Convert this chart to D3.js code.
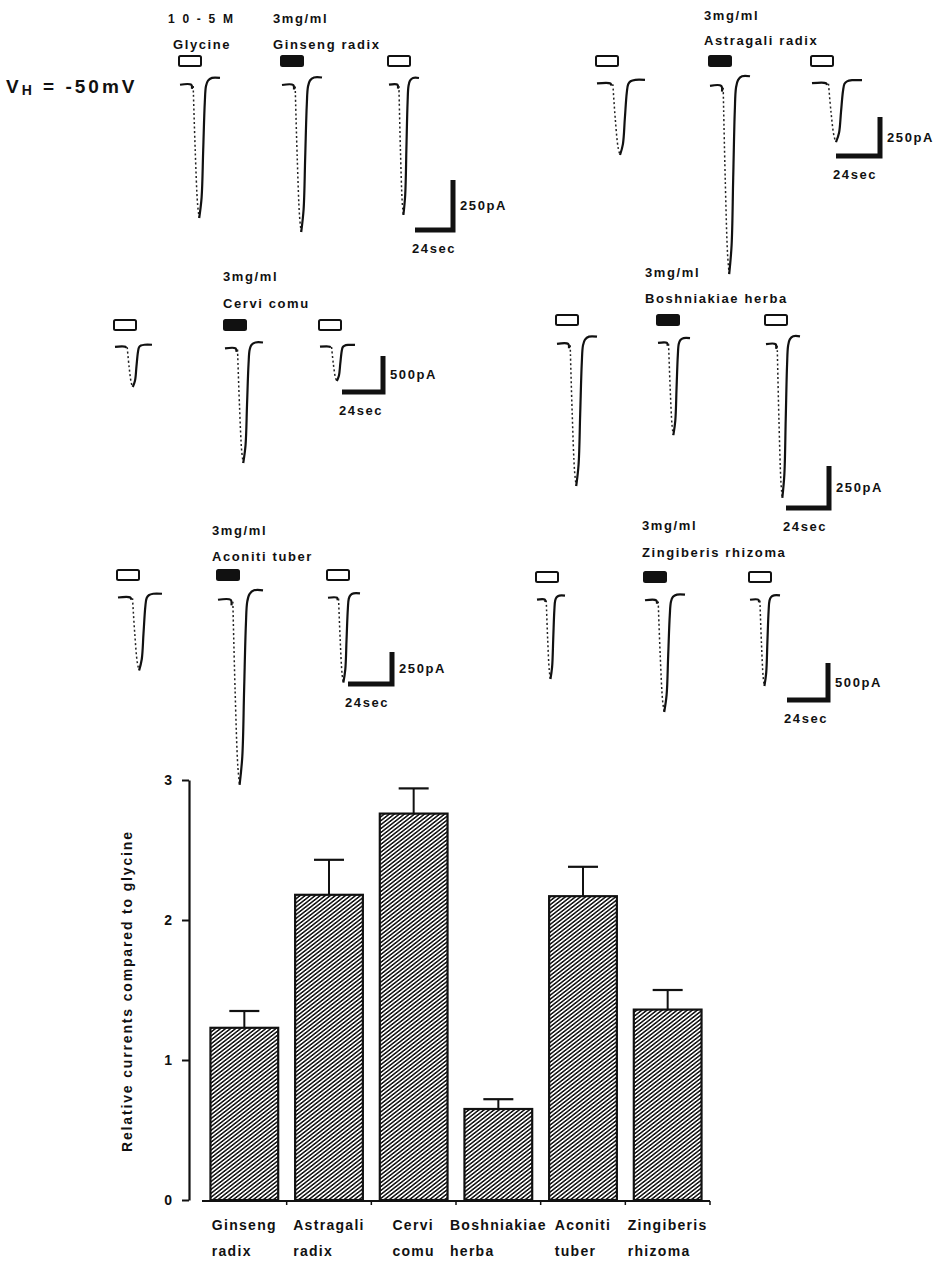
<!DOCTYPE html>
<html>
<head>
<meta charset="UTF-8">
<title>Relative glycine currents</title>
<script src="https://d3js.org/d3.v7.min.js"></script>
<style>
  body { margin: 0; background: #fff; }
  svg { display: block; font-family: "Liberation Sans", Arial, sans-serif; }
</style>
</head>
<body>
<svg id="chart" width="943" height="1262"></svg>
<script>
// ---------- data ----------
var drugs = ["Ginseng radix", "Astragali radix", "Cervi comu", "Boshniakiae herba", "Aconiti tuber", "Zingiberis rhizoma"];
var dose = "3mg/ml";
var scaleAmps = [250, 250, 500, 250, 250, 500];   // pA, vertical scale bar
var scaleTimeLabel = "24sec";
// peak current of each trace (pA): glycine, drug + glycine, glycine again
var peakCurrents = [
  [680, 750, 665],
  [468, 1231, 385],
  [569, 1625, 486],
  [863, 560, 934],
  [581, 1476, 677],
  [1095, 1541, 1189]
];
var barLabels = [["Ginseng", "radix"], ["Astragali", "radix"], ["Cervi", "comu"],
                 ["Boshniakiae", "herba"], ["Aconiti", "tuber"], ["Zingiberis", "rhizoma"]];
var relCurrents = [1.23, 2.18, 2.76, 0.65, 2.17, 1.36];
var relErrors = [0.12, 0.25, 0.18, 0.07, 0.21, 0.14];
var yTicks = [0, 1, 2, 3];

// shape of one recorded current (fraction of duration, fraction of peak)
var traceLead = [[0, 0.02], [0.28, 0.02], [0.30, 0.05]];
var traceDrop = [[0.33, 0.03], [0.38, 0.5], [0.44, 0.9], [0.48, 1.0]];
var traceRise = [[0.48, 1.0], [0.54, 0.85], [0.58, 0.5], [0.62, 0.15], [0.65, 0.03], [0.70, -0.01], [0.80, -0.03], [1.0, -0.03]];

// ---------- layout of the trace panels ----------
var panelLayout = [
  { x: [180, 282, 389], w: [40, 40, 30], base: 82,  labelX: 273, doseY: 23,  nameY: 49,  barX: 453, barY: 230, barH: 50, barW: 38 },
  { x: [597, 710, 812], w: [48, 40, 50], base: 82,  labelX: 704, doseY: 20,  nameY: 45,  barX: 880, barY: 156, barH: 39, barW: 44 },
  { x: [115, 225, 320], w: [37, 38, 35], base: 346, labelX: 223, doseY: 281, nameY: 308, barX: 383, barY: 392, barH: 36, barW: 41 },
  { x: [557, 658, 766], w: [40, 32, 34], base: 341, labelX: 645, doseY: 277, nameY: 303, barX: 829, barY: 508, barH: 42, barW: 43 },
  { x: [118, 218, 328], w: [44, 45, 32], base: 596, labelX: 212, doseY: 535, nameY: 561, barX: 392, barY: 684, barH: 32, barW: 44 },
  { x: [537, 645, 750], w: [28, 40, 30], base: 598, labelX: 642, doseY: 530, nameY: 557, barX: 828, barY: 700, barH: 37, barW: 41 }
];

var svg = d3.select("#chart");

var labelStyle = function(sel, size) {
  return sel.attr("font-size", size).attr("font-weight", "bold").attr("letter-spacing", "1.6px").attr("fill", "#111");
};

// holding potential
var vh = svg.append("text").attr("x", 6).attr("y", 93).attr("font-weight", "bold")
  .attr("font-size", 19).attr("letter-spacing", "3px").attr("fill", "#111");
vh.append("tspan").text("V");
vh.append("tspan").attr("font-size", 14).attr("dy", 2).text("H");
vh.append("tspan").attr("dy", -2).text(" = -50mV");

// glycine label over first panel
labelStyle(svg.append("text").attr("x", 168).attr("y", 23), 12).attr("letter-spacing", "2.2px").text("1 0 - 5 M");
labelStyle(svg.append("text").attr("x", 173).attr("y", 49), 13).text("Glycine");

panelLayout.forEach(function(p, i)
{
  var g = svg.append("g").attr("class", "panel");
  var amp = d3.scaleLinear().domain([0, scaleAmps[i]]).range([0, p.barH]);

  labelStyle(g.append("text").attr("x", p.labelX).attr("y", p.doseY), 13).text(dose);
  labelStyle(g.append("text").attr("x", p.labelX).attr("y", p.nameY), 13).text(drugs[i]);

  peakCurrents[i].forEach(function(c, j)
  {
    var x = d3.scaleLinear().domain([0, 1]).range([p.x[j], p.x[j] + p.w[j]]);
    var y = d3.scaleLinear().domain([0, 1]).range([p.base, p.base + amp(c)]);
    var line = d3.line()
      .x(function(d) { return x(d[0]); })
      .y(function(d) { return y(d[1]); })
      .curve(d3.curveCatmullRom);

    // application bar: open = glycine, filled = drug
    g.append("rect")
      .attr("x", p.x[j] - 1).attr("y", p.base - 26)
      .attr("width", 22).attr("height", 10).attr("rx", 1.5)
      .attr("fill", j == 1 ? "#111" : "#fff")
      .attr("stroke", "#111").attr("stroke-width", 2);

    g.append("path").datum(traceLead).attr("d", line)
      .attr("fill", "none").attr("stroke", "#111").attr("stroke-width", 2.2);
    g.append("path").datum(traceDrop).attr("d", line)
      .attr("fill", "none").attr("stroke", "#222").attr("stroke-width", 1.5)
      .attr("stroke-dasharray", "2,2.5");
    g.append("path").datum(traceRise).attr("d", line)
      .attr("fill", "none").attr("stroke", "#111").attr("stroke-width", 2.2)
      .attr("stroke-linejoin", "round");
  });

  // scale bar
  var bh = amp(scaleAmps[i]);
  g.append("path")
    .attr("d", "M" + (p.barX - p.barW) + "," + p.barY + "H" + p.barX + "V" + (p.barY - bh))
    .attr("fill", "none").attr("stroke", "#111").attr("stroke-width", 5);
  labelStyle(g.append("text").attr("x", p.barX + 7).attr("y", p.barY - bh / 2 + 5), 13)
    .text(scaleAmps[i] + "pA");
  labelStyle(g.append("text").attr("x", p.barX - p.barW - 3).attr("y", p.barY + 23), 13)
    .text(scaleTimeLabel);
});

// ---------- bar chart ----------
var defs = svg.append("defs");
defs.append("pattern")
  .attr("id", "hatch").attr("patternUnits", "userSpaceOnUse")
  .attr("width", 3.1).attr("height", 10)
  .attr("patternTransform", "rotate(52)")
  .append("line")
  .attr("x1", 0.8).attr("y1", 0).attr("x2", 0.8).attr("y2", 10)
  .attr("stroke", "#111").attr("stroke-width", 1.5);

var xScale = d3.scaleBand().domain(d3.range(relCurrents.length))
  .range([202, 710]).paddingInner(0.2).paddingOuter(0.1);
var yScale = d3.scaleLinear().domain([0, 3]).range([1200, 780]);

var yAxis = d3.axisLeft(yScale).tickValues(yTicks).tickFormat(d3.format("d"))
  .tickSize(7).tickSizeOuter(0).tickPadding(10);
var ya = svg.append("g").attr("transform", "translate(189,0)").call(yAxis);
ya.select(".domain").attr("stroke", "#111").attr("stroke-width", 2.2);
ya.selectAll(".tick line").attr("stroke", "#111").attr("stroke-width", 2);
ya.selectAll(".tick text").attr("font-size", 14).attr("font-weight", "bold")
  .attr("fill", "#111").attr("font-family", "Liberation Sans, Arial, sans-serif");

// x axis: baseline with small ticks between bars
var x0 = xScale.range()[0], x1 = xScale.range()[1];
svg.append("line").attr("x1", x0).attr("x2", x1).attr("y1", yScale(0) + 1).attr("y2", yScale(0) + 1)
  .attr("stroke", "#111").attr("stroke-width", 2.2);
svg.selectAll("line.xtick").data(d3.range(1, relCurrents.length + 1)).enter()
  .append("line").attr("class", "xtick")
  .attr("x1", function(k) { return x0 + k * xScale.step(); })
  .attr("x2", function(k) { return x0 + k * xScale.step(); })
  .attr("y1", yScale(0) + 1).attr("y2", yScale(0) + 5)
  .attr("stroke", "#111").attr("stroke-width", 1.5);

svg.selectAll("rect.bar").data(relCurrents).enter()
  .append("rect").attr("class", "bar")
  .attr("x", function(d, i) { return xScale(i); })
  .attr("y", function(d) { return yScale(d); })
  .attr("width", xScale.bandwidth())
  .attr("height", function(d) { return yScale(0) - yScale(d); })
  .attr("fill", "url(#hatch)")
  .attr("stroke", "#111").attr("stroke-width", 2.2);

// error bars
var capW = 30;
var eb = svg.selectAll("g.err").data(relCurrents).enter().append("g").attr("class", "err");
eb.append("line")
  .attr("x1", function(d, i) { return xScale(i) + xScale.bandwidth() / 2; })
  .attr("x2", function(d, i) { return xScale(i) + xScale.bandwidth() / 2; })
  .attr("y1", function(d) { return yScale(d); })
  .attr("y2", function(d, i) { return yScale(d + relErrors[i]); })
  .attr("stroke", "#111").attr("stroke-width", 2);
eb.append("line")
  .attr("x1", function(d, i) { return xScale(i) + xScale.bandwidth() / 2 - capW / 2; })
  .attr("x2", function(d, i) { return xScale(i) + xScale.bandwidth() / 2 + capW / 2; })
  .attr("y1", function(d, i) { return yScale(d + relErrors[i]); })
  .attr("y2", function(d, i) { return yScale(d + relErrors[i]); })
  .attr("stroke", "#111").attr("stroke-width", 2.2);

// category labels: two left-aligned lines, block centred under each bar
barLabels.forEach(function(lines, i)
{
  var t = svg.append("g");
  var texts = lines.map(function(s, k)
  {
    return labelStyle(t.append("text").attr("y", 1230 + k * 26), 14).attr("letter-spacing", "1.3px").text(s);
  });
  var w = d3.max(texts, function(s) { return s.node().getComputedTextLength(); });
  var left = xScale(i) + xScale.bandwidth() / 2 - w / 2;
  texts.forEach(function(s) { s.attr("x", left); });
});

// y axis title
svg.append("text")
  .attr("transform", "translate(132," + ((yScale(0) + yScale(3)) / 2 + 2) + ") rotate(-90)")
  .attr("text-anchor", "middle")
  .attr("font-size", 14).attr("font-weight", "bold").attr("fill", "#111")
  .attr("textLength", 320).attr("lengthAdjust", "spacing")
  .text("Relative currents compared to glycine");
</script>
</body>
</html>
